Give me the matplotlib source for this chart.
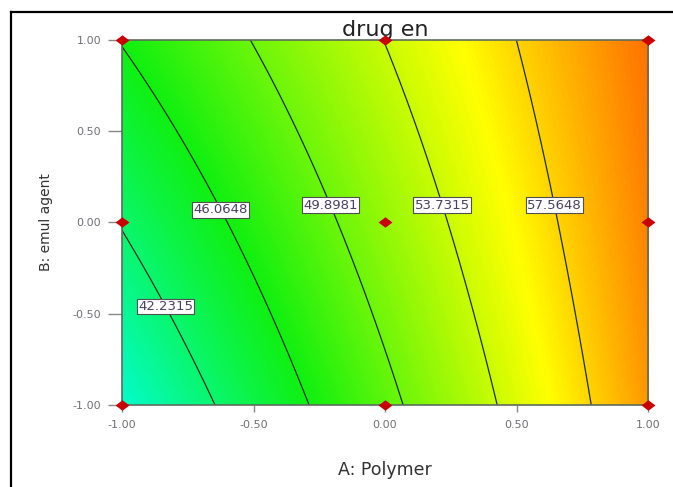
import numpy as np
import matplotlib
matplotlib.use("Agg")
import matplotlib.pyplot as plt
from matplotlib.colors import LinearSegmentedColormap
from matplotlib.lines import Line2D

# fitted response model for "drug en" in coded units:
# terms: intercept, A, B, AB, A^2, B^2
coef = [51.55, 9.15, 2.31, -1.57, 0.0, -0.08]

# contour levels and where each label sits along B
levels = [42.2315, 46.0648, 49.8981, 53.7315, 57.5648]
label_b = [-0.46, 0.07, 0.095, 0.095, 0.095]

# design points (coded)
pts_a = [-1, -1, -1, 0, 0, 0, 1, 1, 1]
pts_b = [-1, 0, 1, -1, 0, 1, -1, 0, 1]

ticks = [-1.0, -0.5, 0.0, 0.5, 1.0]


def response(a, b):
    b0, ba, bb, bab, baa, bbb = coef
    return b0 + ba * a + bb * b + bab * a * b + baa * a * a + bbb * b * b


def solve_a(level, b):
    # model is linear in A when baa == 0
    b0, ba, bb, bab, baa, bbb = coef
    return (level - b0 - bb * b - bbb * b * b) / (ba + bab * b)


cmap = LinearSegmentedColormap.from_list(
    "de", ["#0000ff", "#00ffff", "#10f010", "#ffff00", "#ff0000"])

fig = plt.figure(figsize=(6.73, 4.87), dpi=100)
ax = fig.add_axes([0.1813, 0.1684, 0.7816, 0.7495])

grid = np.linspace(-1, 1, 300)
ga, gb = np.meshgrid(grid, grid)
z = response(ga, gb)
ax.imshow(z, extent=(-1, 1, -1, 1), origin="lower", cmap=cmap,
          vmin=26.4, vmax=65.8, interpolation="bilinear", aspect="auto")
ax.contour(ga, gb, z, levels=levels, colors="#1c2e1c", linewidths=0.9)

for lev, b in zip(levels, label_b):
    ax.text(solve_a(lev, b), b, f"{lev:.4f}", ha="center", va="center",
            fontsize=9.5, color="#4a4060", zorder=5,
            bbox=dict(boxstyle="square,pad=0.1", fc="white", ec="#505050", lw=0.8))

diamond = [(-1, 0), (0, 0.75), (1, 0), (0, -0.75), (-1, 0)]
ax.plot(pts_a, pts_b, linestyle="none", marker=diamond, markersize=10,
        color="#c80000", markeredgewidth=0, clip_on=False, zorder=6)

ax.set_xlim(-1, 1)
ax.set_ylim(-1, 1)
ax.set_xticks(ticks)
ax.set_yticks(ticks)
ax.set_xticklabels([f"{t:.2f}" for t in ticks])
ax.set_yticklabels([f"{t:.2f}" for t in ticks])
ax.tick_params(axis="x", length=5, width=1, color="#888888", pad=6,
               labelsize=8, labelcolor="#707078")
ax.tick_params(axis="y", length=10, width=1, color="#888888", pad=5,
               labelsize=8, labelcolor="#707078")
for s in ax.spines.values():
    s.set_color("#5c6c5c")
    s.set_linewidth(1.2)

ax.set_title("drug en", fontsize=16, color="#222222", pad=3)
ax.set_xlabel("A: Polymer", fontsize=12.5, color="#333333", labelpad=22)
ax.set_ylabel("B: emul agent", fontsize=10, color="#333333", labelpad=14)

# frame lines along the left and top edges of the figure
fig.add_artist(Line2D([11 / 673, 11 / 673], [0, 1 - 12 / 487],
                      transform=fig.transFigure, color="black", lw=1.6))
fig.add_artist(Line2D([11 / 673, 1], [1 - 12 / 487, 1 - 12 / 487],
                      transform=fig.transFigure, color="black", lw=1.6))

fig.savefig("out.png", dpi=100)
